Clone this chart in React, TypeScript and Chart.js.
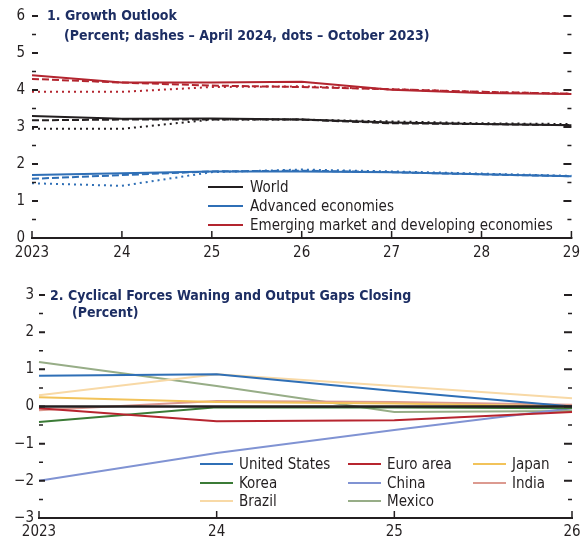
import React, { useEffect, useRef } from "react";
import { Chart, registerables } from "chart.js";

Chart.register(...registerables);

// ---------- Panel 1 data ----------
const TOP_YEARS = ["2023", "24", "25", "26", "27", "28", "29"];
const WORLD_NOW = [3.3, 3.22, 3.23, 3.2, 3.12, 3.08, 3.05];
const WORLD_APR24 = [3.18, 3.2, 3.2, 3.2, 3.1, 3.08, 3.05];
const WORLD_OCT23 = [2.95, 2.95, 3.2, 3.2, 3.15, 3.1, 3.08];
const ADV_NOW = [1.7, 1.75, 1.8, 1.8, 1.78, 1.72, 1.67];
const ADV_APR24 = [1.6, 1.7, 1.8, 1.82, 1.78, 1.72, 1.67];
const ADV_OCT23 = [1.48, 1.41, 1.78, 1.85, 1.8, 1.74, 1.68];
const EMDE_NOW = [4.4, 4.2, 4.2, 4.22, 4.01, 3.92, 3.89];
const EMDE_APR24 = [4.3, 4.2, 4.12, 4.08, 4.02, 3.95, 3.9];
const EMDE_OCT23 = [3.95, 3.95, 4.08, 4.1, 4.02, 3.95, 3.9];
const TOP_TICKS = { min: 0, max: 6 };

// ---------- Panel 2 data ----------
const BOT_YEARS = ["2023", "24", "25", "26"];
const UNITED_STATES = [0.83, 0.87, 0.42, 0.0];
const EURO_AREA = [-0.05, -0.4, -0.37, -0.15];
const JAPAN = [0.25, 0.12, 0.08, 0.0];
const KOREA = [-0.42, -0.02, -0.03, -0.05];
const CHINA = [-2.0, -1.25, -0.63, -0.05];
const INDIA = [-0.1, 0.15, 0.12, 0.05];
const BRAZIL = [0.3, 0.87, 0.55, 0.22];
const MEXICO = [1.2, 0.55, -0.15, -0.12];
const ZERO = [0, 0, 0, 0];
const BOT_TICKS = { min: -3, max: 3 };

const FONT = "'Liberation Sans Narrow', 'DejaVu Sans Condensed', 'Arial Narrow', sans-serif";
const INK = "#231f20";
const NAVY = "#1d2e63";

const C_BLACK = "#231f20";
const C_BLUE = "#2f6fb6";
const C_RED = "#b3252f";

const framePlugin = {
  id: "frame",
  afterDraw(chart: any) {
    const { ctx, chartArea: a, scales } = chart;
    const x = scales.x;
    const y = scales.y;
    ctx.save();
    ctx.strokeStyle = INK;
    for (let v = y.min + 0.5; v <= y.max + 1e-9; v += 0.5) {
      const py = y.getPixelForValue(v);
      const major = Math.abs(v - Math.round(v)) < 1e-9;
      const len = major ? 6 : 4;
      ctx.lineWidth = major ? 2 : 1.5;
      ctx.beginPath();
      ctx.moveTo(a.left, py);
      ctx.lineTo(a.left + len, py);
      ctx.moveTo(a.right - len - (major ? 2 : 0), py);
      ctx.lineTo(a.right, py);
      ctx.stroke();
    }
    ctx.lineWidth = 2;
    ctx.beginPath();
    ctx.moveTo(a.left - 1, a.bottom);
    ctx.lineTo(a.right + 1, a.bottom);
    ctx.stroke();
    ctx.lineWidth = 1.5;
    const n = chart.data.labels.length;
    for (let i = 0; i < n; i++) {
      const px = x.getPixelForValue(i);
      ctx.beginPath();
      ctx.moveTo(px, a.bottom);
      ctx.lineTo(px, a.bottom - 7);
      ctx.stroke();
    }
    ctx.restore();
  },
};

const textPlugin = {
  id: "texts",
  afterDraw(chart: any, _args: any, opts: any) {
    const { ctx } = chart;
    ctx.save();
    ctx.textBaseline = "middle";
    (opts.titles || []).forEach((t: any) => {
      ctx.font = `bold ${t.size}px ${FONT}`;
      ctx.fillStyle = NAVY;
      ctx.fillText(t.text, t.x, t.y);
    });
    const lg = opts.legend;
    if (lg) {
      ctx.font = `${lg.size}px ${FONT}`;
      lg.items.forEach((dsIndex: number, k: number) => {
        const ds = chart.data.datasets[dsIndex];
        const col = k % lg.cols.length;
        const row = Math.floor(k / lg.cols.length);
        const lx = lg.cols[col];
        const ly = lg.rows[row];
        ctx.strokeStyle = ds.borderColor;
        ctx.lineWidth = 2;
        ctx.beginPath();
        ctx.moveTo(lx, ly);
        ctx.lineTo(lx + lg.lineLen, ly);
        ctx.stroke();
        ctx.fillStyle = INK;
        ctx.fillText(ds.label, lx + lg.lineLen + lg.gap, ly + 1);
      });
    }
    ctx.restore();
  },
};

function lineDs(label: string, data: number[], color: string, kind: string, extra: any = {}) {
  return {
    label,
    data,
    borderColor: color,
    backgroundColor: color,
    borderWidth: 2,
    borderDash: kind === "dash" ? [7, 3] : kind === "dot" ? [2, 4] : [],
    pointRadius: 0,
    tension: 0,
    fill: false,
    ...extra,
  };
}

function baseOptions(p: {
  padTop: number;
  padRight: number;
  yWidth: number;
  xHeight: number;
  yMin: number;
  yMax: number;
  labelPad: number;
  xPad: number;
  texts: any;
}) {
  return {
    responsive: false,
    animation: false,
    devicePixelRatio: 1,
    layout: { padding: { top: p.padTop, right: p.padRight, left: 0, bottom: 0 } },
    plugins: {
      legend: { display: false },
      tooltip: { enabled: false },
      title: { display: false },
      texts: p.texts,
    },
    scales: {
      x: {
        type: "category",
        offset: false,
        grid: { display: false, drawTicks: false },
        border: { display: false },
        ticks: {
          color: INK,
          font: { family: FONT, size: 15 },
          padding: p.xPad,
          maxRotation: 0,
          autoSkip: false,
        },
        afterFit: (s: any) => {
          s.height = p.xHeight;
        },
      },
      y: {
        min: p.yMin,
        max: p.yMax,
        grid: { display: false, drawTicks: false },
        border: { display: false },
        ticks: {
          stepSize: 1,
          color: INK,
          font: { family: FONT, size: 15 },
          padding: p.labelPad,
          callback: (v: any) => (v < 0 ? "\u2212" + Math.abs(v) : String(v)),
        },
        afterFit: (s: any) => {
          s.width = p.yWidth;
        },
      },
    },
  };
}

function TopChart() {
  const ref = useRef<HTMLCanvasElement | null>(null);
  useEffect(() => {
    if (!ref.current) return;
    const chart = new Chart(ref.current, {
      type: "line",
      data: {
        labels: TOP_YEARS,
        datasets: [
          lineDs("World", WORLD_NOW, C_BLACK, "solid"),
          lineDs("Advanced economies", ADV_NOW, C_BLUE, "solid"),
          lineDs("Emerging market and developing economies", EMDE_NOW, C_RED, "solid"),
          lineDs("World (April 2024)", WORLD_APR24, C_BLACK, "dash"),
          lineDs("Advanced economies (April 2024)", ADV_APR24, C_BLUE, "dash"),
          lineDs("EMDEs (April 2024)", EMDE_APR24, C_RED, "dash"),
          lineDs("World (October 2023)", WORLD_OCT23, C_BLACK, "dot"),
          lineDs("Advanced economies (October 2023)", ADV_OCT23, C_BLUE, "dot"),
          lineDs("EMDEs (October 2023)", EMDE_OCT23, C_RED, "dot"),
        ],
      },
      options: baseOptions({
        padTop: 16,
        padRight: 14,
        yWidth: 32,
        xHeight: 27,
        yMin: TOP_TICKS.min,
        yMax: TOP_TICKS.max,
        labelPad: 7,
        xPad: 6,
        texts: {
          titles: [
            { text: "1. Growth Outlook", x: 47, y: 16, size: 14 },
            { text: "(Percent; dashes \u2013 April 2024, dots \u2013 October 2023)", x: 64, y: 36, size: 14 },
          ],
          legend: {
            size: 15,
            items: [0, 1, 2],
            cols: [208],
            rows: [187, 206, 225],
            lineLen: 35,
            gap: 7,
          },
        },
      }) as any,
      plugins: [framePlugin, textPlugin],
    });
    return () => chart.destroy();
  }, []);
  return <canvas ref={ref} width={586} height={265} style={{ display: "block" }} />;
}

function BottomChart() {
  const ref = useRef<HTMLCanvasElement | null>(null);
  useEffect(() => {
    if (!ref.current) return;
    const chart = new Chart(ref.current, {
      type: "line",
      data: {
        labels: BOT_YEARS,
        datasets: [
          lineDs("United States", UNITED_STATES, "#2f6fb6", "solid"),
          lineDs("Euro area", EURO_AREA, "#b7252f", "solid"),
          lineDs("Japan", JAPAN, "#f2c35a", "solid"),
          lineDs("Korea", KOREA, "#3b7b36", "solid"),
          lineDs("China", CHINA, "#8093d3", "solid"),
          lineDs("India", INDIA, "#dc9a90", "solid"),
          lineDs("Brazil", BRAZIL, "#f8d9a6", "solid"),
          lineDs("Mexico", MEXICO, "#97ad87", "solid"),
          lineDs("Zero", ZERO, C_BLACK, "solid", { borderWidth: 2.5, order: -1 }),
        ],
      },
      options: baseOptions({
        padTop: 30,
        padRight: 14,
        yWidth: 39,
        xHeight: 20,
        yMin: BOT_TICKS.min,
        yMax: BOT_TICKS.max,
        labelPad: 5,
        xPad: 5,
        texts: {
          titles: [
            { text: "2. Cyclical Forces Waning and Output Gaps Closing", x: 50, y: 31, size: 14 },
            { text: "(Percent)", x: 72, y: 48, size: 14 },
          ],
          legend: {
            size: 15,
            items: [0, 1, 2, 3, 4, 5, 6, 7],
            cols: [200, 348, 473],
            rows: [199, 218, 236],
            lineLen: 33,
            gap: 6,
          },
        },
      }) as any,
      plugins: [framePlugin, textPlugin],
    });
    return () => chart.destroy();
  }, []);
  return <canvas ref={ref} width={586} height={273} style={{ display: "block" }} />;
}

export default function App() {
  return (
    <div
      style={{
        position: "absolute",
        left: 0,
        top: 0,
        width: 586,
        height: 538,
        background: "#ffffff",
        overflow: "hidden",
      }}
    >
      <TopChart />
      <BottomChart />
    </div>
  );
}
